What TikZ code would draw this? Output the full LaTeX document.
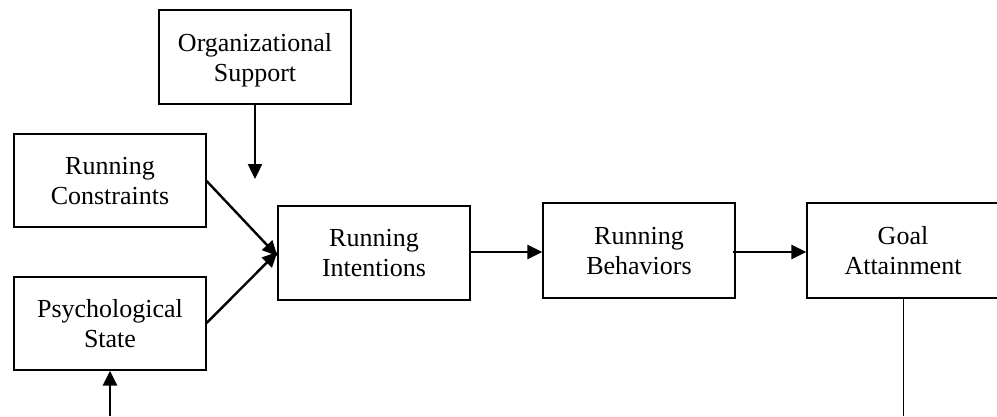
\documentclass[tikz,border=0pt]{standalone}
\usepackage{fontspec}
\setmainfont{Liberation Serif}
\usetikzlibrary{arrows.meta}
\begin{document}
\begin{tikzpicture}[x=1pt,y=-1pt,
  box/.style={draw,line width=1.3pt,minimum width=192pt,minimum height=94pt,
    inner sep=0pt,align=center,text depth=0pt,font=\fontsize{26}{30}\selectfont},
  arr/.style={line width=2.4pt,-{Triangle[length=15pt,width=14pt]}},
  thin line/.style={line width=1pt}]
\useasboundingbox (0,0) rectangle (997,416);
\node[box] (org) at (255,57) {Organizational\\Support};
\node[box,minimum height=93pt] (cons) at (110,180.5) {Running\\Constraints};
\node[box,minimum height=93pt] (psy) at (110,323.5) {Psychological\\State};
\node[box] (int) at (374,253) {Running\\Intentions};
\node[box,minimum height=95pt] (beh) at (639,250.5) {Running\\Behaviors};
\node[box,minimum height=95pt] (goal) at (903,250.5) {Goal\\Attainment};
\coordinate (orgtip) at (255,179);
\coordinate (psybot) at (110,416);
\coordinate (goalbot) at (903,416);
\draw[arr] (org.south) -- (orgtip);
\draw[arr] (cons.east |- 0,181) -- ([yshift=-3pt]int.west);
\draw[arr] (psy.east |- 0,323) -- ([yshift=1pt]int.west);
\draw[arr] (int.east |- 0,252) -- (beh.west |- 0,252);
\draw[arr] ([xshift=-3pt]beh.east |- 0,252) -- (goal.west |- 0,252);
\draw[thin line] (goal.south) -- (goalbot);
\draw[arr] (psybot) -- (psy.south);
\end{tikzpicture}
\end{document}
